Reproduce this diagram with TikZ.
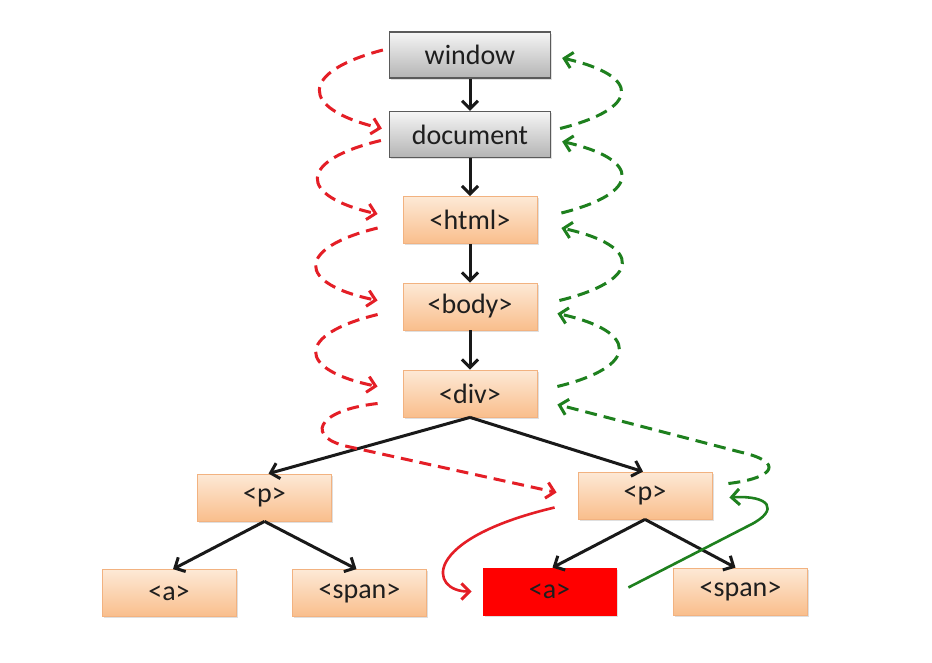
\documentclass[tikz,border=0pt]{standalone}
\usepackage{fontspec}
\setmainfont{Carlito}
\usetikzlibrary{arrows.meta,shadows}
\definecolor{peachtop}{RGB}{253,233,214}
\definecolor{peachbot}{RGB}{249,190,140}
\definecolor{peachline}{RGB}{242,178,128}
\definecolor{graytop}{RGB}{245,245,245}
\definecolor{graybot}{RGB}{180,180,180}
\definecolor{grayline}{RGB}{90,90,90}
\definecolor{evred}{RGB}{228,30,38}
\definecolor{evgreen}{RGB}{30,128,30}
\definecolor{boxred}{RGB}{255,0,0}
\definecolor{txt}{RGB}{30,30,30}
\begin{document}
\begin{tikzpicture}[x=1pt,y=1pt,
  base/.style={inner sep=0pt, font=\fontsize{28}{32}\selectfont, text=txt,
    drop shadow={opacity=0.25, shadow xshift=1.5pt, shadow yshift=-1.5pt}},
  graybox/.style={base, draw=grayline, line width=1.2pt, top color=graytop, bottom color=graybot,
    minimum width=161pt, minimum height=46pt},
  peachbox/.style={base, draw=peachline, line width=0.8pt, top color=peachtop, bottom color=peachbot,
    minimum width=134pt, minimum height=47pt},
  redbox/.style={base, draw=boxred, fill=boxred, line width=0.8pt,
    minimum width=133pt, minimum height=47pt},
  tip/.style={-{Straight Barb[length=8pt,width=16pt,line width=3pt]}},
  treearrow/.style={tip, draw=black!90, line width=3pt},
  bubbleup/.style={tip, draw=evgreen, line width=3pt, dash pattern=on 12pt off 7pt},
  capdown/.style={tip, draw=evred, line width=3pt, dash pattern=on 12pt off 7pt},
  target/.style={tip, draw=evred, line width=2.6pt},
  reply/.style={tip, draw=evgreen, line width=2.6pt}
]
\useasboundingbox (0,0) rectangle (932,-662);
\fill[white] (0,0) rectangle (932,-662);

\node[graybox] (window) at (470,-55) {window};
\node[graybox] (document) at (470,-134.5) {document};
\node[peachbox] (html) at (470,-220) {<html>};
\node[peachbox] (body) at (470,-306.5) {<body>};
\node[peachbox] (div) at (470,-393.5) {<div>};
\node[peachbox] (pl) at (264.5,-497.5) {<p>};
\node[peachbox] (pr) at (645,-495.5) {<p>};
\node[peachbox] (al) at (169,-593) {<a>};
\node[peachbox] (sl) at (359.5,-593) {<span>};
\node[redbox] (ar) at (549.5,-591.5) {<a>};
\node[peachbox] (sr) at (740.5,-591.5) {<span>};

% tree arrows
\draw[treearrow] (window.south) -- (document.north);
\draw[treearrow] (document.south) -- (html.north);
\draw[treearrow] (html.south) -- (body.north);
\draw[treearrow] (body.south) -- (div.north);
\draw[treearrow] (div.south) -- ([xshift=4pt]pl.north);
\draw[treearrow] (div.south) -- ([xshift=-2pt]pr.north);
\draw[treearrow] (pl.south) -- ([xshift=4pt]al.north);
\draw[treearrow] (pl.south) -- ([xshift=-3pt]sl.north);
\draw[treearrow] (pr.south) -- ([xshift=3pt]ar.north);
\draw[treearrow] (pr.south) -- ([xshift=-5pt]sr.north);

% capture phase (red dashed)
\draw[capdown] ([xshift=-6pt,yshift=5pt]window.west) .. controls +(-84,-22) and +(-83,20) .. ([xshift=-7pt,yshift=6pt]document.west);
\draw[capdown] ([xshift=-8pt,yshift=-6pt]document.west) .. controls +(-84,-20) and +(-80,18) .. ([xshift=-25pt,yshift=6pt]html.west);
\draw[capdown] ([xshift=-25pt,yshift=-8pt]html.west) .. controls +(-82,-20) and +(-82,17) .. ([xshift=-25pt,yshift=6pt]body.west);
\draw[capdown] ([xshift=-25pt,yshift=-8pt]body.west) .. controls +(-82,-20) and +(-82,17) .. ([xshift=-25pt,yshift=7pt]div.west);
\draw[capdown] ([xshift=-25pt,yshift=-10pt]div.west) .. controls +(-63,-7) and +(-45,9) .. (350,-447) -- ([xshift=-21pt,yshift=3pt]pr.west);

% target phase
\draw[target] ([xshift=-23pt,yshift=-12pt]pr.west) .. controls +(-135,-32) and +(-42,0) .. ([xshift=-11pt]ar.west);

% bubble phase (green dashed)
\draw[reply] ([xshift=12pt,yshift=4pt]ar.east) -- (750,-525) .. controls (780,-510) and (770,-495) .. ([xshift=17pt,yshift=-2pt]pr.east);
\draw[bubbleup] ([xshift=16pt,yshift=12pt]pr.east) .. controls (775,-478) and (785,-462) .. (740,-452) -- ([xshift=20pt,yshift=-11pt]div.east);
\draw[bubbleup] ([xshift=20pt,yshift=7pt]div.east) .. controls +(82,20) and +(82,-18) .. ([xshift=20pt,yshift=-7pt]body.east);
\draw[bubbleup] ([xshift=22pt,yshift=6pt]body.east) .. controls +(82,20) and +(82,-18) .. ([xshift=24pt,yshift=-8pt]html.east);
\draw[bubbleup] ([xshift=24pt,yshift=7pt]html.east) .. controls +(80,20) and +(80,-18) .. ([xshift=11pt,yshift=-7pt]document.east);
\draw[bubbleup] ([xshift=9pt,yshift=6pt]document.east) .. controls +(80,20) and +(80,-18) .. ([xshift=11pt,yshift=-3pt]window.east);
\end{tikzpicture}
\end{document}
